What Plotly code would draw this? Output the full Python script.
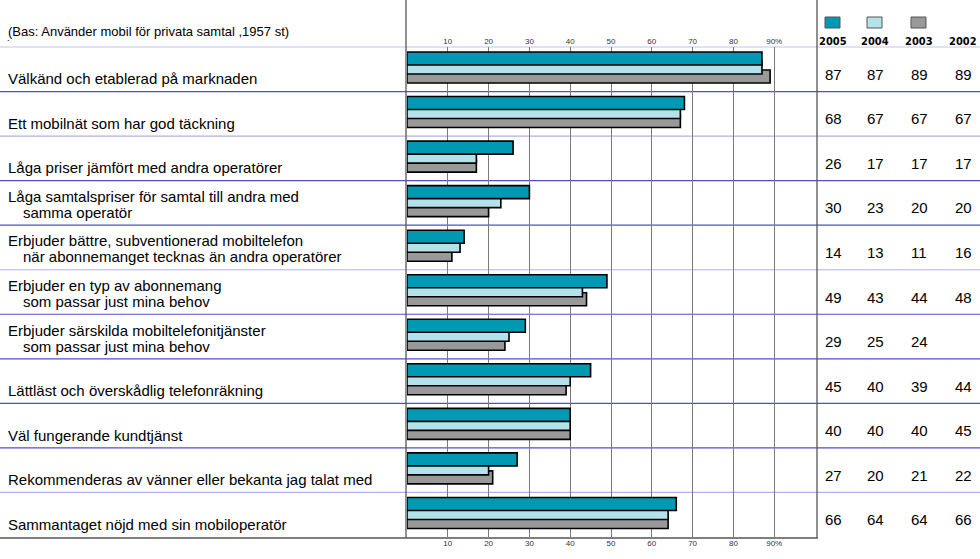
import plotly.graph_objects as go

# ---------------- data ----------------
labels = [
    ["Välkänd och etablerad på marknaden"],
    ["Ett mobilnät som har god täckning"],
    ["Låga priser jämfört med andra operatörer"],
    ["Låga samtalspriser för samtal till andra med", "samma operatör"],
    ["Erbjuder bättre, subventionerad mobiltelefon", "när abonnemanget tecknas än andra operatörer"],
    ["Erbjuder en typ av abonnemang", "som passar just mina behov"],
    ["Erbjuder särskilda mobiltelefonitjänster", "som passar just mina behov"],
    ["Lättläst och överskådlig telefonräkning"],
    ["Väl fungerande kundtjänst"],
    ["Rekommenderas av vänner eller bekanta jag talat med"],
    ["Sammantaget nöjd med sin mobiloperatör"],
]
years = ["2005", "2004", "2003", "2002"]
v2005 = [87, 68, 26, 30, 14, 49, 29, 45, 40, 27, 66]
v2004 = [87, 67, 17, 23, 13, 43, 25, 40, 40, 20, 64]
v2003 = [89, 67, 17, 20, 11, 44, 24, 39, 40, 21, 64]
v2002 = [89, 67, 17, 20, 16, 48, None, 44, 45, 22, 66]
tick_vals = [10, 20, 30, 40, 50, 60, 70, 80, 90]
tick_text = ["10", "20", "30", "40", "50", "60", "70", "80", "90%"]
base_note = "(Bas: Använder mobil för privata samtal ,1957 st)"

# ---------------- style ----------------
W, H = 980, 559
L, R, T, B = 407, 815, 47, 537
PW, PH = R - L, B - T
C2005, C2004, C2003 = "#0099b3", "#b3e2ea", "#999999"
FONT = "Liberation Sans, Arial, sans-serif"
NARROW = "Liberation Sans Narrow, Arial Narrow, DejaVu Sans Condensed, Liberation Sans, Arial"

cats = [" | ".join(l) for l in labels]
row_h = PH / len(cats)


def px(x):
    return (x - L) / PW


def py(y):
    return 1 - (y - T) / PH


fig = go.Figure()
bar_w = 13 / row_h
for vals, col, name, top in [(v2003, C2003, "2003", 23), (v2004, C2004, "2004", 14), (v2005, C2005, "2005", 5)]:
    fig.add_trace(go.Bar(
        x=vals, y=cats, orientation="h", name=name,
        marker=dict(color=col, line=dict(color="#000000", width=1.6)),
        width=bar_w, offset=top / row_h - 0.5,
        hoverinfo="x+name", showlegend=False,
    ))
# invisible trace to drive bottom axis
fig.add_trace(go.Scatter(x=[0, 100], y=[cats[0], cats[0]], xaxis="x2", mode="markers",
                         marker=dict(opacity=0), showlegend=False, hoverinfo="skip"))

annotations = []
shapes = []
LAB = dict(family=FONT, size=15, color="#000000")
# left labels
for i, lines in enumerate(labels):
    if len(lines) == 1:
        annotations.append(dict(x=px(6), xref="paper", y=cats[i], yref="y", yshift=-9.5,
                                text=lines[0], showarrow=False, xanchor="left", yanchor="middle",
                                font=LAB))
    else:
        annotations.append(dict(x=px(6), xref="paper", y=cats[i], yref="y", yshift=6.5,
                                text=lines[0], showarrow=False, xanchor="left", yanchor="middle",
                                font=LAB))
        annotations.append(dict(x=px(21), xref="paper", y=cats[i], yref="y", yshift=-9.5,
                                text=lines[1], showarrow=False, xanchor="left", yanchor="middle",
                                font=LAB))

# numbers table
col_x = [833, 875, 919, 963]
for j, series in enumerate([v2005, v2004, v2003, v2002]):
    for i, v in enumerate(series):
        if v is None:
            continue
        annotations.append(dict(x=px(col_x[j]), xref="paper", y=cats[i], yref="y", yshift=-5,
                                text=str(v), showarrow=False, xanchor="center", yanchor="middle",
                                font=dict(family=FONT, size=15, color="#000000")))

# legend
leg_cols = [C2005, C2004, C2003]
for j, yr in enumerate(years):
    if j < 3:
        shapes.append(dict(type="rect", xref="paper", yref="paper",
                           x0=px(col_x[j] - 8), x1=px(col_x[j] + 7), y0=py(28), y1=py(17),
                           fillcolor=leg_cols[j], line=dict(color="#555555", width=1)))
    annotations.append(dict(x=px(col_x[j]), xref="paper", y=py(41), yref="paper",
                            text="<b>" + yr + "</b>", showarrow=False, xanchor="center", yanchor="middle",
                            font=dict(family=NARROW, size=11, color="#000000")))

# base note
annotations.append(dict(x=px(6), xref="paper", y=py(31), yref="paper", text=base_note,
                        showarrow=False, xanchor="left", yanchor="middle",
                        font=dict(family=FONT, size=13, color="#000000")))
annotations.append(dict(x=px(5), xref="paper", y=py(45), yref="paper", text=".",
                        showarrow=False, xanchor="left", yanchor="bottom",
                        font=dict(family=FONT, size=9, color="#000000")))

# row separator lines
line_cols = ["#c4c4ee", "#5050c8", "#b0b0e6", "#5050c8", "#5050c8", "#b0b0e6",
             "#5050c8", "#5050c8", "#5050c8", "#5050c8", "#b0b0e6"]
for k in range(len(cats)):
    yy = T + k * row_h
    shapes.append(dict(type="line", xref="paper", yref="paper", x0=px(0), x1=px(W),
                       y0=py(yy), y1=py(yy), line=dict(color=line_cols[k], width=1.2), layer="below"))
# frame
shapes.append(dict(type="line", xref="paper", yref="paper", x0=px(0), x1=px(818),
                   y0=py(538), y1=py(538), line=dict(color="#555555", width=1.3)))
shapes.append(dict(type="line", xref="paper", yref="paper", x0=px(406), x1=px(406),
                   y0=py(0), y1=py(538), line=dict(color="#555555", width=1.3)))
shapes.append(dict(type="line", xref="paper", yref="paper", x0=px(817), x1=px(817),
                   y0=py(0), y1=py(538), line=dict(color="#555555", width=1.3)))

axis_common = dict(range=[0, 100], tickvals=tick_vals, ticktext=tick_text, showline=False,
                   zeroline=False, ticks="", tickfont=dict(family=FONT, size=8, color="#333333"))
fig.update_layout(
    width=W, height=H,
    margin=dict(l=L, r=W - R, t=T, b=H - B, pad=0),
    paper_bgcolor="white", plot_bgcolor="white",
    barmode="overlay",
    xaxis=dict(side="top", showgrid=True, gridcolor="#7a7a7a", gridwidth=1, **axis_common),
    xaxis2=dict(side="bottom", overlaying="x", matches="x", showgrid=False, **axis_common),
    yaxis=dict(categoryorder="array", categoryarray=cats, range=[len(cats) - 0.5, -0.5],
               showticklabels=False, showgrid=False, zeroline=False, showline=False, ticks=""),
    annotations=annotations, shapes=shapes,
    showlegend=False,
)
fig.write_html("out.html", config={"displayModeBar": False},
               post_script="document.body.style.margin='0';document.body.style.overflow='hidden';")
